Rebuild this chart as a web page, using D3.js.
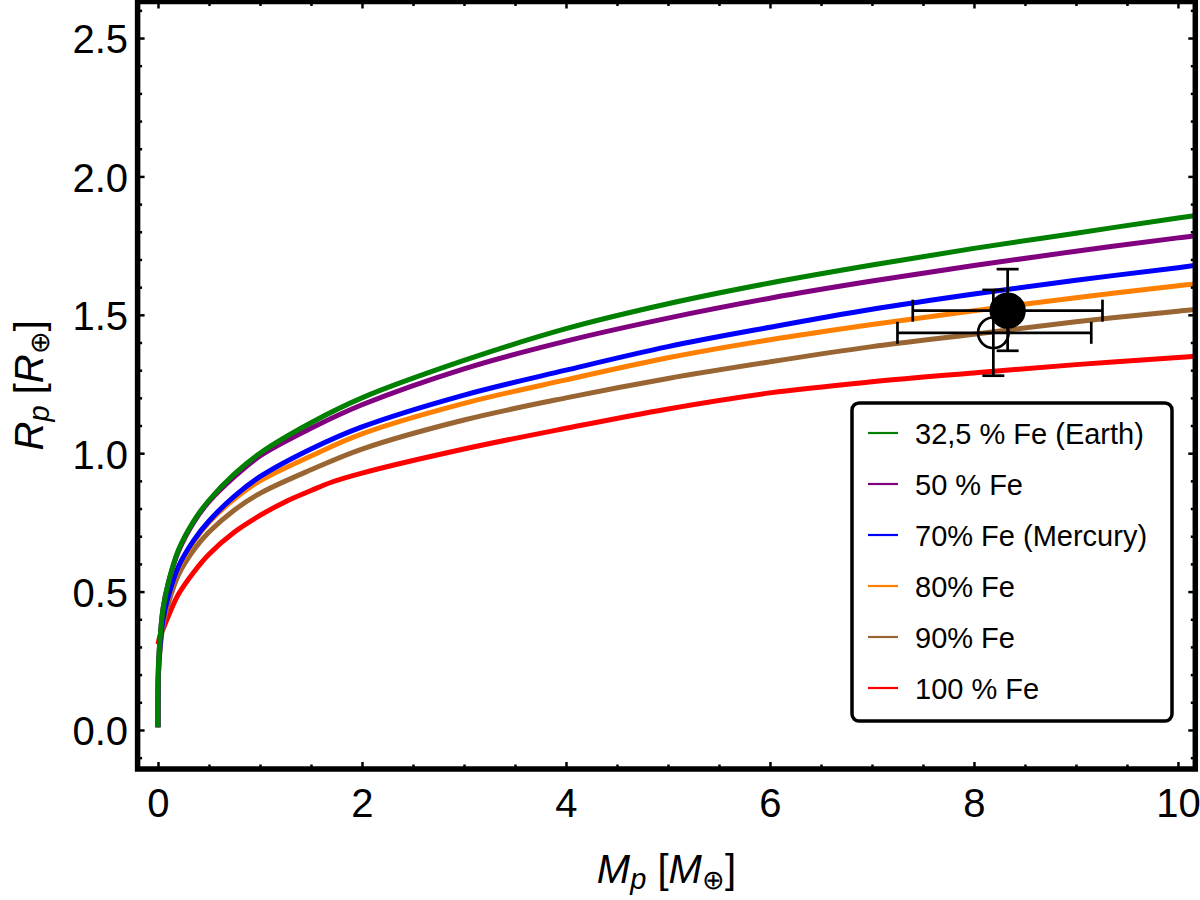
<!DOCTYPE html>
<html>
<head>
<meta charset="utf-8">
<script src="https://cdn.jsdelivr.net/npm/d3@7"></script>
<style>
  body { margin: 0; background: #fff; }
  svg { display: block; }
</style>
</head>
<body>
<svg id="canvas"></svg>
<script>
// mass grid shared by the five rocky curves, Earth masses
const massGrid = [0, 0.001, 0.005, 0.02, 0.05, 0.1, 0.2, 0.35, 0.5, 0.75, 1, 1.5, 2, 3, 4, 5, 6, 7, 8, 9, 10, 10.2];
const radiusFe32 = [0.01, 0.16, 0.24, 0.33, 0.44, 0.53, 0.65, 0.755, 0.83, 0.925, 1.00, 1.11, 1.20, 1.335, 1.45, 1.54, 1.615, 1.68, 1.74, 1.795, 1.85, 1.86];
const radiusFe50 = [0.01, 0.16, 0.24, 0.33, 0.44, 0.53, 0.645, 0.75, 0.825, 0.915, 0.99, 1.09, 1.175, 1.305, 1.405, 1.488, 1.56, 1.622, 1.678, 1.73, 1.778, 1.787];
const radiusFe70 = [0.01, 0.14, 0.21, 0.30, 0.40, 0.48, 0.59, 0.685, 0.755, 0.845, 0.915, 1.015, 1.095, 1.21, 1.30, 1.385, 1.455, 1.52, 1.575, 1.625, 1.67, 1.68];
const radiusFe80 = [0.01, 0.14, 0.21, 0.30, 0.40, 0.475, 0.585, 0.68, 0.75, 0.835, 0.9, 0.99, 1.07, 1.18, 1.265, 1.345, 1.41, 1.465, 1.515, 1.562, 1.605, 1.612];
const radiusFe90 = [0.01, 0.13, 0.20, 0.29, 0.38, 0.455, 0.56, 0.65, 0.715, 0.795, 0.855, 0.94, 1.015, 1.12, 1.2, 1.27, 1.33, 1.385, 1.43, 1.475, 1.513, 1.52];
// pure iron curve has its own grid
const massGridFe100 = [0, 0.02, 0.05, 0.1, 0.2, 0.35, 0.5, 0.75, 1, 1.25, 1.5, 1.7, 2, 3, 4, 5, 6, 7, 8, 9, 10, 10.2];
const radiusFe100 = [0.31, 0.34, 0.365, 0.41, 0.49, 0.57, 0.635, 0.715, 0.775, 0.825, 0.865, 0.895, 0.928, 1.015, 1.09, 1.16, 1.218, 1.258, 1.29, 1.32, 1.346, 1.351];

const seriesLabels = ["32,5 % Fe (Earth)", "50 % Fe", "70% Fe (Mercury)", "80% Fe", "90% Fe", "100 % Fe"];
const seriesColors = ["#008000", "#800080", "#0000ff", "#ff8000", "#996633", "#ff0000"];

// planet measurements: mass, mass range, radius, radius range
const planetMass = [8.19, 8.33];
const planetMassLow = [7.25, 7.40];
const planetMassHigh = [9.15, 9.26];
const planetRadius = [1.435, 1.515];
const planetRadiusLow = [1.28, 1.37];
const planetRadiusHigh = [1.59, 1.665];
const planetFilled = [false, true];

const xMajorTicks = [0, 2, 4, 6, 8, 10];
const yMajorTicks = [0, 0.5, 1, 1.5, 2, 2.5];

(function () {

    const width = 1200;
    const height = 900;
    const font = "'Liberation Sans', Arial, Helvetica, sans-serif";
    const frame = { left: 137.6, right: 1195.3, top: 1.5, bottom: 769 };

    const x = d3.scaleLinear().domain([-0.2, 10.17]).range([frame.left, frame.right]);
    const y = d3.scaleLinear().domain([-0.141, 2.632]).range([frame.bottom, frame.top]);

    const svg = d3.select("#canvas")
        .attr("width", width)
        .attr("height", height)
        .style("font-family", font);

    svg.append("defs").append("clipPath")
        .attr("id", "plot-clip")
        .append("rect")
        .attr("x", frame.left)
        .attr("y", frame.top)
        .attr("width", frame.right - frame.left)
        .attr("height", frame.bottom - frame.top);

    const curves = [
        { mass: massGrid, radius: radiusFe32 },
        { mass: massGrid, radius: radiusFe50 },
        { mass: massGrid, radius: radiusFe70 },
        { mass: massGrid, radius: radiusFe80 },
        { mass: massGrid, radius: radiusFe90 },
        { mass: massGridFe100, radius: radiusFe100 }
    ].map((c, i) => ({
        label: seriesLabels[i],
        color: seriesColors[i],
        points: c.mass.map((m, j) => [m, c.radius[j]])
    }));

    const line = d3.line()
        .x(d => x(d[0]))
        .y(d => y(d[1]))
        .curve(d3.curveCatmullRom.alpha(0.5));

    // earth curve on top, so draw in reverse
    svg.append("g")
        .attr("clip-path", "url(#plot-clip)")
        .selectAll("path")
        .data(curves.slice().reverse())
        .enter()
        .append("path")
        .attr("d", d => line(d.points))
        .attr("fill", "none")
        .attr("stroke", d => d.color)
        .attr("stroke-width", 5)
        .attr("stroke-linejoin", "round");

    // ticks, all pointing inwards
    const minorX = d3.range(0.5, 10.1, 0.5).filter(v => v % 2 !== 0);
    const minorY = d3.range(-0.1, 2.65, 0.1).filter(v => Math.abs(v * 2 - Math.round(v * 2)) > 0.01);

    const styleTicks = g => {
        g.select(".domain").remove();
        g.selectAll(".tick line").attr("stroke", "#000").attr("stroke-width", 2.5);
        g.selectAll(".tick text")
            .attr("fill", "#000")
            .attr("font-size", 40)
            .attr("font-family", font);
    };

    svg.append("g")
        .attr("transform", `translate(0,${frame.bottom})`)
        .call(d3.axisBottom(x).tickValues(xMajorTicks).tickFormat(d3.format("d")).tickSize(-7).tickPadding(20))
        .call(styleTicks);
    svg.append("g")
        .attr("transform", `translate(0,${frame.bottom})`)
        .call(d3.axisBottom(x).tickValues(minorX).tickFormat("").tickSize(-4.5))
        .call(styleTicks);
    svg.append("g")
        .attr("transform", `translate(0,${frame.top})`)
        .call(d3.axisTop(x).tickValues(xMajorTicks).tickFormat("").tickSize(-7))
        .call(styleTicks);
    svg.append("g")
        .attr("transform", `translate(0,${frame.top})`)
        .call(d3.axisTop(x).tickValues(minorX).tickFormat("").tickSize(-4.5))
        .call(styleTicks);

    svg.append("g")
        .attr("transform", `translate(${frame.left},0)`)
        .call(d3.axisLeft(y).tickValues(yMajorTicks).tickFormat(d3.format(".1f")).tickSize(-7).tickPadding(9.5))
        .call(styleTicks)
        .call(g => g.selectAll(".tick text").attr("dy", "0.37em"));
    svg.append("g")
        .attr("transform", `translate(${frame.left},0)`)
        .call(d3.axisLeft(y).tickValues(minorY).tickFormat("").tickSize(-4.5))
        .call(styleTicks);
    svg.append("g")
        .attr("transform", `translate(${frame.right},0)`)
        .call(d3.axisRight(y).tickValues(yMajorTicks).tickFormat("").tickSize(-7))
        .call(styleTicks);
    svg.append("g")
        .attr("transform", `translate(${frame.right},0)`)
        .call(d3.axisRight(y).tickValues(minorY).tickFormat("").tickSize(-4.5))
        .call(styleTicks);

    // frame
    svg.append("rect")
        .attr("x", frame.left)
        .attr("y", frame.top)
        .attr("width", frame.right - frame.left)
        .attr("height", frame.bottom - frame.top)
        .attr("fill", "none")
        .attr("stroke", "#000")
        .attr("stroke-width", 5.5);

    // measurements with error bars
    const planets = planetMass.map((m, i) => ({
        m: m, mLo: planetMassLow[i], mHi: planetMassHigh[i],
        r: planetRadius[i], rLo: planetRadiusLow[i], rHi: planetRadiusHigh[i],
        filled: planetFilled[i]
    }));
    const cap = 11;

    const pts = svg.append("g")
        .selectAll("g.planet")
        .data(planets)
        .enter()
        .append("g")
        .attr("class", "planet")
        .attr("stroke", "#000")
        .attr("stroke-width", 2.7);

    pts.append("line")
        .attr("x1", d => x(d.mLo)).attr("x2", d => x(d.mHi))
        .attr("y1", d => y(d.r)).attr("y2", d => y(d.r));
    pts.append("line")
        .attr("x1", d => x(d.mLo)).attr("x2", d => x(d.mLo))
        .attr("y1", d => y(d.r) - cap).attr("y2", d => y(d.r) + cap);
    pts.append("line")
        .attr("x1", d => x(d.mHi)).attr("x2", d => x(d.mHi))
        .attr("y1", d => y(d.r) - cap).attr("y2", d => y(d.r) + cap);
    pts.append("line")
        .attr("x1", d => x(d.m)).attr("x2", d => x(d.m))
        .attr("y1", d => y(d.rLo)).attr("y2", d => y(d.rHi));
    pts.append("line")
        .attr("x1", d => x(d.m) - cap).attr("x2", d => x(d.m) + cap)
        .attr("y1", d => y(d.rLo)).attr("y2", d => y(d.rLo));
    pts.append("line")
        .attr("x1", d => x(d.m) - cap).attr("x2", d => x(d.m) + cap)
        .attr("y1", d => y(d.rHi)).attr("y2", d => y(d.rHi));
    pts.append("circle")
        .attr("cx", d => x(d.m))
        .attr("cy", d => y(d.r))
        .attr("r", d => d.filled ? 16.8 : 15.3)
        .attr("fill", d => d.filled ? "#000" : "none");

    // legend
    const legend = svg.append("g").attr("transform", "translate(852,403)");
    legend.append("rect")
        .attr("width", 320)
        .attr("height", 318)
        .attr("rx", 7)
        .attr("fill", "#fff")
        .attr("stroke", "#000")
        .attr("stroke-width", 3.5);

    const rows = legend.selectAll("g.row")
        .data(curves)
        .enter()
        .append("g")
        .attr("class", "row")
        .attr("transform", (d, i) => `translate(0,${30 + i * 51})`);
    rows.append("line")
        .attr("x1", 16).attr("x2", 46)
        .attr("stroke", d => d.color)
        .attr("stroke-width", 2.2);
    rows.append("text")
        .attr("x", 63)
        .attr("y", 10.5)
        .attr("font-size", 29)
        .attr("fill", "#000")
        .text(d => d.label);

    // axis titles
    const xTitle = svg.append("text")
        .attr("x", (frame.left + frame.right) / 2)
        .attr("y", 883)
        .attr("text-anchor", "middle")
        .attr("font-size", 40)
        .attr("fill", "#000");
    xTitle.append("tspan").attr("font-style", "italic").text("M");
    xTitle.append("tspan").attr("font-style", "italic").attr("font-size", 29).attr("dy", 6).text("p");
    xTitle.append("tspan").attr("dy", -6).text(" [");
    xTitle.append("tspan").attr("font-style", "italic").text("M");
    xTitle.append("tspan").attr("font-size", 27).attr("dy", 6).text("\u2295");
    xTitle.append("tspan").attr("dy", -6).text("]");

    const yTitle = svg.append("text")
        .attr("transform", `translate(43,${(frame.top + frame.bottom) / 2}) rotate(-90)`)
        .attr("text-anchor", "middle")
        .attr("font-size", 40)
        .attr("fill", "#000");
    yTitle.append("tspan").attr("font-style", "italic").text("R");
    yTitle.append("tspan").attr("font-style", "italic").attr("font-size", 29).attr("dy", 6).text("p");
    yTitle.append("tspan").attr("dy", -6).text(" [");
    yTitle.append("tspan").attr("font-style", "italic").text("R");
    yTitle.append("tspan").attr("font-size", 27).attr("dy", 6).text("\u2295");
    yTitle.append("tspan").attr("dy", -6).text("]");

})();
</script>
</body>
</html>
